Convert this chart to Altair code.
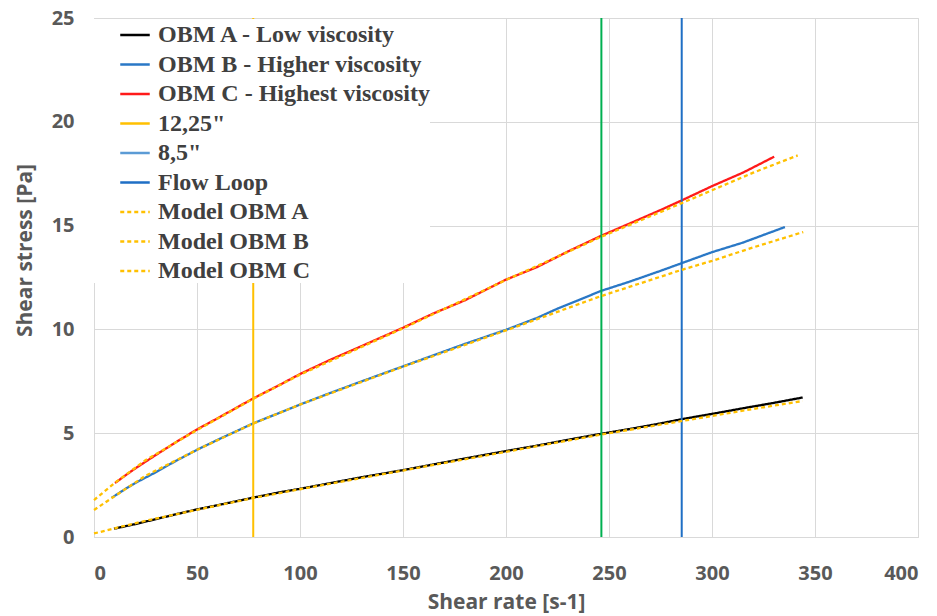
import altair as alt
import pandas as pd

# ---- data ----
series_names = [
    "OBM A - Low viscosity", "OBM B - Higher viscosity", "OBM C - Highest viscosity",
    '12,25"', '8,5"', "Flow Loop", "Model OBM A", "Model OBM B", "Model OBM C",
]
series_colors = ["#000000", "#2a78c6", "#ff1a1a", "#ffc000", "#5b9bd5", "#1f6fc5",
                 "#ffc000", "#ffc000", "#ffc000"]
series_dash = [[1, 0], [1, 0], [1, 0], [1, 0], [1, 0], [1, 0], [4, 3], [4, 3], [4, 3]]

a_x = [9.7, 20, 30, 40, 50, 60, 77, 90, 100, 115, 130, 150, 165, 180, 200, 215, 230, 246,
       260, 275, 285, 300, 315, 330, 344]
a_y = [0.40, 0.62, 0.86, 1.10, 1.33, 1.53, 1.89, 2.15, 2.32, 2.60, 2.88, 3.22, 3.50, 3.78,
       4.14, 4.40, 4.68, 4.97, 5.20, 5.47, 5.67, 5.93, 6.20, 6.46, 6.72]

b_x = [8.6, 15, 20, 30, 40, 50, 60, 77, 90, 100, 115, 130, 150, 165, 180, 200, 215, 225,
       235, 246, 260, 275, 285, 300, 315, 325, 335.4]
b_y = [1.89, 2.30, 2.60, 3.12, 3.68, 4.20, 4.68, 5.46, 5.98, 6.38, 6.95, 7.50, 8.22, 8.76,
       9.30, 9.98, 10.55, 11.00, 11.40, 11.85, 12.30, 12.82, 13.18, 13.72, 14.18, 14.55, 14.93]

c_x = [10.2, 15, 20, 30, 40, 50, 60, 77, 90, 100, 115, 130, 150, 165, 180, 200, 215, 230,
       246, 260, 275, 285, 300, 315, 330.2]
c_y = [2.60, 2.95, 3.30, 3.95, 4.58, 5.18, 5.72, 6.66, 7.32, 7.85, 8.55, 9.20, 10.08, 10.78,
       11.40, 12.40, 13.00, 13.75, 14.50, 15.10, 15.75, 16.20, 16.90, 17.55, 18.32]

ma_x = [0, 10, 25, 50, 77, 100, 150, 200, 246, 285, 300, 320, 344]
ma_y = [0.17, 0.42, 0.78, 1.31, 1.87, 2.30, 3.20, 4.10, 4.93, 5.58, 5.83, 6.17, 6.55]

mb_x = [0, 9, 25, 50, 77, 100, 150, 200, 246, 285, 300, 320, 344.3]
mb_y = [1.30, 1.90, 2.95, 4.20, 5.45, 6.38, 8.20, 9.95, 11.60, 12.86, 13.30, 13.95, 14.69]

mc_x = [0, 10, 25, 50, 77, 100, 150, 200, 246, 285, 300, 320, 341.6]
mc_y = [1.78, 2.60, 3.70, 5.15, 6.64, 7.82, 10.05, 12.38, 14.45, 16.07, 16.70, 17.55, 18.38]

rule_names = ['12,25"', "Flow Loop"]
rule_x = [77.3, 285.3]
green_rule_name = ['8,5"']
green_rule_x = [246.3]
green_rule_color = "#00b050"

x_ticks = [0, 50, 100, 150, 200, 250, 300, 350, 400]
y_ticks = [0, 5, 10, 15, 20, 25]


def frame(name, xs, ys):
    return pd.DataFrame({"series": name, "x": xs, "y": ys})


data_df = pd.concat([
    frame(series_names[0], a_x, a_y),
    frame(series_names[1], b_x, b_y),
    frame(series_names[2], c_x, c_y),
])
model_df = pd.concat([
    frame(series_names[6], ma_x, ma_y),
    frame(series_names[7], mb_x, mb_y),
    frame(series_names[8], mc_x, mc_y),
])
rule_df = pd.DataFrame({"series": rule_names, "x": rule_x})
green_df = pd.DataFrame({"series": green_rule_name, "x": green_rule_x})

label_font = "Open Sans"
grey = "#595959"

x_enc = alt.X("x:Q", scale=alt.Scale(domain=[0, 400], nice=False),
              axis=alt.Axis(values=x_ticks, title="Shear rate [s-1]", grid=True,
                            gridColor="#d9d9d9", domainColor="#d9d9d9", ticks=False,
                            labelFont=label_font, labelFontSize=20, labelFontWeight="bold",
                            labelColor=grey, labelPadding=26,
                            titleFont=label_font, titleFontSize=21, titleFontWeight="bold",
                            titleColor=grey, titleY=65, titleBaseline="middle"))
y_enc = alt.Y("y:Q", scale=alt.Scale(domain=[0, 25], nice=False),
              axis=alt.Axis(values=y_ticks, title="Shear stress [Pa]", grid=True,
                            gridColor="#d9d9d9", domainColor="#d9d9d9", ticks=False,
                            labelFont=label_font, labelFontSize=20, labelFontWeight="bold",
                            labelColor=grey, labelPadding=20,
                            titleFont=label_font, titleFontSize=21, titleFontWeight="bold",
                            titleColor=grey, titleX=-69, titleY=232, titleAngle=270,
                            titleBaseline="middle"))

legend = alt.Legend(
    title=None, orient="none", legendX=-4, legendY=1, padding=0, fillColor="white",
    symbolType="stroke", symbolSize=870, symbolStrokeWidth=2.5, symbolOffset=29,
    labelOffset=7, labelFont="Liberation Serif", labelFontSize=24, labelFontWeight="bold",
    labelColor="#404040", labelLimit=600, rowPadding=1.5,
)
color_enc = alt.Color("series:N", scale=alt.Scale(domain=series_names, range=series_colors),
                      legend=legend)
dash_enc = alt.StrokeDash("series:N", scale=alt.Scale(domain=series_names, range=series_dash),
                          legend=legend)

lines = alt.Chart(data_df).mark_line(strokeWidth=2.3).encode(
    x=x_enc, y=y_enc, color=color_enc, strokeDash=dash_enc, detail="series:N"
)
rules = alt.Chart(rule_df).mark_rule(strokeWidth=2).encode(
    x=x_enc, color=color_enc, strokeDash=dash_enc
)
green = alt.Chart(green_df).mark_rule(strokeWidth=2, color=green_rule_color).encode(x=x_enc)
models = alt.Chart(model_df).mark_line(strokeWidth=2.3).encode(
    x=x_enc, y=y_enc, color=color_enc, strokeDash=dash_enc, detail="series:N"
)

chart = alt.layer(lines, rules, green, models).properties(
    width=824, height=519,
    autosize=alt.AutoSizeParams(type="none"),
    padding={"left": 94, "top": 18, "right": 19, "bottom": 79},
).configure_view(strokeWidth=0).configure(background="white")

chart.save("out.html", embed_options={"renderer": "svg", "actions": False})
